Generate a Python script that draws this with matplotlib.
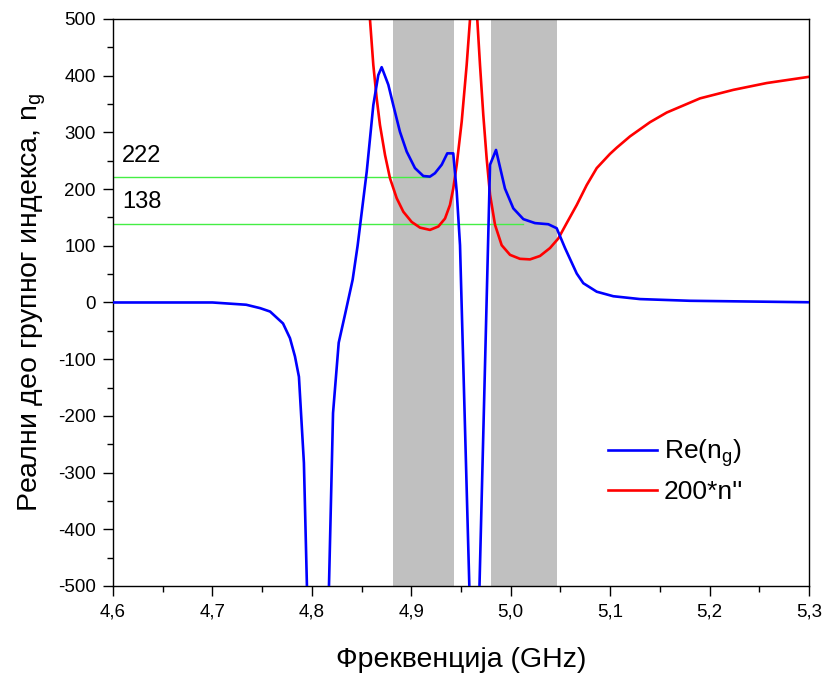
"""Re(n_g) and 200*n'' vs frequency, with the two gray bands."""

import matplotlib
matplotlib.use("Agg")
import matplotlib.pyplot as plt
from matplotlib.ticker import MultipleLocator, FuncFormatter

plt.rcParams["font.family"] = ["Liberation Sans", "DejaVu Sans"]
plt.rcParams["axes.unicode_minus"] = False

# Re(n_g) (GHz, value)
f_re = [4.600, 4.700, 4.734, 4.748, 4.758, 4.771, 4.778, 4.783, 4.787,
        4.792, 4.797,
        4.8152, 4.8213, 4.827, 4.8335, 4.841, 4.846, 4.8552, 4.8618,
        4.8668, 4.8702, 4.8769, 4.8819, 4.8886, 4.8954, 4.9037, 4.9121,
        4.9188, 4.9238, 4.9306, 4.9362, 4.9422, 4.9457, 4.9490, 4.9604,
        4.966, 4.9792, 4.9852, 4.9942, 5.0026, 5.0127, 5.0244, 5.0378,
        5.0462, 5.0546, 5.0664, 5.0730, 5.0865, 5.1032, 5.130, 5.180, 5.300]
re_ng = [0, 0, -4, -10, -16, -37, -63, -95, -131,
         -283, -640,
         -650, -195, -71, -20, 40, 100, 231, 348,
         401, 415, 384, 348, 301, 266, 237, 223,
         222, 228, 243, 263, 263, 195, 101, -630,
         -680, 243, 269, 201, 166, 147, 140, 138,
         131, 96, 51, 34, 19, 11, 6, 3, 0.4]

# 200*n''
f_im = [4.8550, 4.8585, 4.8618, 4.8652, 4.8685, 4.8736, 4.8786, 4.8853,
        4.8920, 4.9004, 4.9088, 4.9188, 4.9272, 4.9339, 4.9389, 4.9422,
        4.9457, 4.9507, 4.9557, 4.9590, 4.9627, 4.9664, 4.9691, 4.9724,
        4.9758, 4.9792, 4.9842, 4.9909, 4.9993, 5.0093, 5.0194, 5.0294,
        5.0395, 5.0479, 5.0563, 5.0664, 5.0764, 5.0865, 5.0998, 5.1066,
        5.1200, 5.1401, 5.1569, 5.1904, 5.2239, 5.2574, 5.3000]
im_200 = [585, 498, 419, 360, 313, 260, 219, 184,
          160, 142, 132, 128, 134, 148, 172, 201,
          243, 319, 419, 498, 620, 498, 419, 331,
          254, 190, 137, 101, 84, 77, 76, 82,
          96, 113, 140, 172, 207, 237, 262, 273,
          293, 318, 335, 360, 375, 387, 398]

bands = [(4.8817, 4.943), (4.9804, 5.0465)]
marks = [222, 138]
mark_ends = [4.918, 5.012]
mark_text_y = [248, 167]

fig = plt.figure(figsize=(8.29, 6.73), dpi=100)
ax = fig.add_axes([0.1363, 0.1293, 0.8396, 0.8425])

for lo, hi in bands:
    ax.axvspan(lo, hi, color="#c0c0c0", lw=0, zorder=0)

for val, end, ty in zip(marks, mark_ends, mark_text_y):
    ax.plot([4.6, end], [val, val], color="#44ee44", lw=1, zorder=1)
    ax.text(4.609, ty, str(val), fontsize=17, va="baseline", ha="left")

ax.plot(f_re, re_ng, color="#0000ff", lw=1.9, label="Re(n$_\\mathregular{g}$)", zorder=3)
ax.plot(f_im, im_200, color="#ff0000", lw=1.9, label="200*n''", zorder=2)

ax.set_xlim(4.6, 5.3)
ax.set_ylim(-500, 500)
ax.xaxis.set_major_locator(MultipleLocator(0.1))
ax.xaxis.set_minor_locator(MultipleLocator(0.05))
ax.yaxis.set_major_locator(MultipleLocator(100))
ax.yaxis.set_minor_locator(MultipleLocator(50))
ax.xaxis.set_major_formatter(FuncFormatter(lambda v, p: f"{v:.1f}".replace(".", ",")))
ax.tick_params(which="major", direction="out", length=7.5, width=1, labelsize=13.5, pad=5)
ax.tick_params(which="minor", direction="out", length=4.5, width=1)
for s in ax.spines.values():
    s.set_linewidth(1)

ax.set_xlabel("Фреквенција (GHz)", fontsize=20.5, labelpad=19)
ax.set_ylabel("Реални део групног индекса, n$_\\mathregular{g}$", fontsize=20.5, labelpad=7)

ax.legend(loc="upper left", bbox_to_anchor=(0.711, 0.262), frameon=False,
          fontsize=19, handlelength=1.86, handletextpad=0.25, labelspacing=0.4,
          borderpad=0, borderaxespad=0)

fig.savefig("out.png", dpi=100)
